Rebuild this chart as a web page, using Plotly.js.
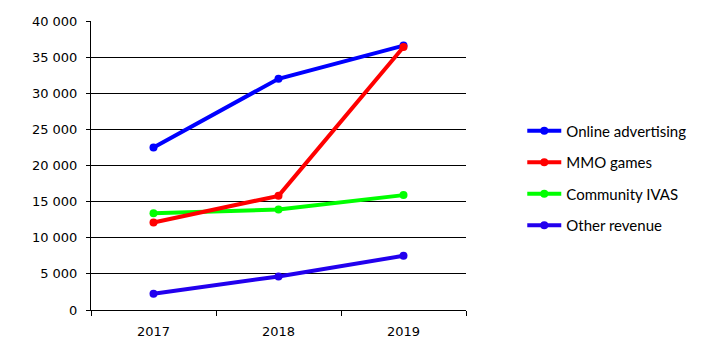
<!DOCTYPE html>
<html><head><meta charset="utf-8">
<script src="https://cdn.plot.ly/plotly-3.0.1.min.js"></script>
<style>body{margin:0;background:#fff}#c{width:702px;height:356px}</style>
</head><body><div id="c"></div>
<script>
var years = ['2017', '2018', '2019'];
var onlineAdvertising = [22500, 32000, 36600];
var mmoGames = [12100, 15800, 36400];
var communityIVAS = [13400, 13900, 15900];
var otherRevenue = [2250, 4650, 7500];
var names = ['Online advertising', 'MMO games', 'Community IVAS', 'Other revenue'];
var colors = ['#0000FF', '#FF0000', '#00FF00', '#2200EE'];
var series = [onlineAdvertising, mmoGames, communityIVAS, otherRevenue];

var traces = series.map(function (s, i) {
  return {
    x: years, y: s, name: names[i], type: 'scatter', mode: 'lines+markers',
    line: {color: colors[i], width: 4}, marker: {color: colors[i], size: 8},
    legendgroup: 'g' + i, legendrank: i + 1
  };
});
// draw order: others first so red ends on top at 2019
var data = [traces[3], traces[2], traces[0], traces[1]];

var layout = {
  width: 702, height: 356,
  margin: {l: 91, r: 235, t: 21, b: 46},
  paper_bgcolor: '#fff', plot_bgcolor: '#fff',
  separators: ', ',
  showlegend: true,
  font: {family: 'DejaVu Sans', color: '#000', size: 13},
  xaxis: {
    type: 'category', range: [-0.5, 2.5], tickson: 'boundaries', ticks: 'outside', ticklen: 5, tickcolor: '#000',
    showgrid: false, showline: true, linecolor: '#000', linewidth: 1, zeroline: false, ticklabelstandoff: 9,
    tickfont: {family: 'DejaVu Sans', size: 13, color: '#000'}
  },
  yaxis: {
    range: [0, 40000], dtick: 5000, tickformat: ',d', ticks: 'outside', ticklen: 4, tickcolor: '#000',
    showgrid: true, gridcolor: '#000', gridwidth: 1, showline: true, linecolor: '#000', linewidth: 1,
    zeroline: false, ticklabelstandoff: 6,
    tickfont: {family: 'DejaVu Sans', size: 13, color: '#000'}
  },
  legend: {
    x: 1.147, xanchor: 'left', y: 0.457, yanchor: 'middle', traceorder: 'grouped',
    tracegroupgap: 9, itemwidth: 34,
    font: {family: 'Lato', size: 15, color: '#000'}, bgcolor: 'rgba(0,0,0,0)'
  }
};
Plotly.newPlot('c', data, layout, {displayModeBar: false, staticPlot: true});
</script></body></html>
